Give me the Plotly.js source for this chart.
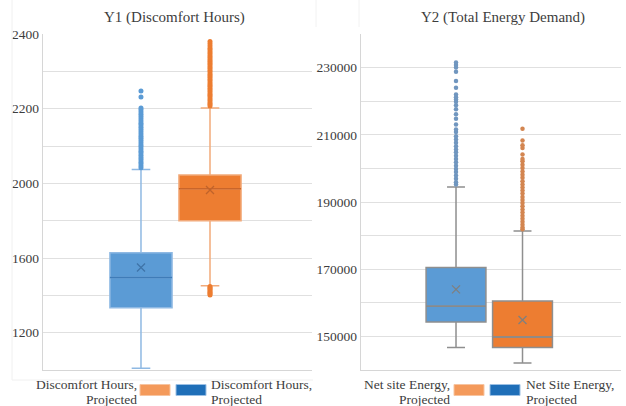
<!DOCTYPE html>
<html>
<head>
<meta charset="utf-8">
<script src="https://cdn.plot.ly/plotly-3.0.1.min.js"></script>
<style>html,body{margin:0;padding:0;background:#fff;}#chart{width:626px;height:406px;}</style>
</head>
<body>
<div id="chart"></div>
<script>
// ---- data (stat order: lowerfence, q1, median, q3, upperfence, mean) ----
const PANEL_TITLES = ["Y1 (Discomfort Hours)", "Y2 (Total Energy Demand)"];
const Y1_NAMES = ["Discomfort Hours, Projected", "Discomfort Hours, Projected"];
const Y2_NAMES = ["Net site Energy, Projected", "Net Site Energy, Projected"];

const Y1_BLUE = [1010, 1333, 1495, 1628, 2037, 1549];
const Y1_ORANGE = [1452, 1800, 1971, 2022, 2202, 1964];
const Y1_BLUE_OUTLIERS = [2042, 2047, 2053, 2058, 2064, 2069, 2075, 2081, 2086, 2092, 2098, 2103, 2109, 2115, 2121, 2126, 2132, 2138, 2144, 2150, 2156, 2161, 2167, 2173, 2179, 2185, 2191, 2197, 2202, 2231, 2247];
const Y1_ORANGE_OUTLIERS = [2207, 2212, 2216, 2221, 2226, 2231, 2236, 2240, 2245, 2250, 2255, 2260, 2264, 2269, 2274, 2279, 2284, 2289, 2293, 2298, 2303, 2308, 2313, 2318, 2322, 2327, 2332, 2337, 2342, 2347, 2352, 2357, 2362, 2368, 2374, 2380, 1447, 1441, 1435, 1428, 1421, 1414, 1408, 1402];
const Y1_TICK_LABELS = [1200, 1600, 2000, 2200, 2400];

const Y2_BLUE = [146700, 154300, 159000, 170500, 194500, 164000];
const Y2_ORANGE = [142100, 146700, 149800, 160500, 181400, 154900];
const Y2_BLUE_OUTLIERS = [195200, 195900, 196900, 197900, 198900, 199800, 200800, 201800, 202800, 203800, 204800, 205600, 206600, 207600, 208600, 209600, 210800, 211600, 213100, 214800, 216100, 217600, 218800, 219800, 220500, 221200, 222000, 224000, 226000, 228800, 230000, 230800, 231500];
const Y2_ORANGE_OUTLIERS = [181900, 182400, 183200, 184100, 185000, 185900, 186900, 187800, 188700, 189700, 190600, 191500, 192500, 193400, 194300, 195200, 196200, 197200, 198100, 199100, 200100, 201100, 202100, 202800, 204100, 206100, 206900, 208300, 211800];
const Y2_TICK_LABELS = [150000, 170000, 190000, 210000, 230000];

// The Y1 axis of the original is compressed below 2000 (label spacing 400 instead of 200)
const warp = v => v >= 2000 ? v : 2000 - (2000 - v) / 2;

const W = 626, H = 406;
const px = x => x / W;
const py = y => (H - y) / H;

const FONT = "Liberation Serif";
const TXT = "#3d3d3d";

function boxTrace(stats, pos, fill, lineColor, xa, ya, tf) {
  const f = tf || (v => v);
  return {
    type: 'box', orientation: 'v', x: [pos],
    lowerfence: [f(stats[0])], q1: [f(stats[1])], median: [f(stats[2])],
    q3: [f(stats[3])], upperfence: [f(stats[4])],
    width: 0.9, whiskerwidth: 0.3, fillcolor: fill,
    line: {color: lineColor, width: 1.5}, boxpoints: false,
    xaxis: xa, yaxis: ya, showlegend: false, hoverinfo: 'skip'
  };
}
function medianTrace(stats, pos, color, xa, ya, tf) {
  const f = tf || (v => v);
  const m = f(stats[2]);
  return {
    type: 'box', orientation: 'v', x: [pos],
    lowerfence: [m], q1: [m], median: [m], q3: [m], upperfence: [m],
    width: 0.9, whiskerwidth: 0, fillcolor: 'rgba(0,0,0,0)',
    line: {color: color, width: 1.5}, boxpoints: false,
    xaxis: xa, yaxis: ya, showlegend: false, hoverinfo: 'skip'
  };
}
function meanTrace(stats, pos, color, xa, ya, tf) {
  const f = tf || (v => v);
  return {
    type: 'scatter', mode: 'markers', x: [pos], y: [f(stats[5])],
    marker: {symbol: 'x-thin', size: 8, line: {color: color, width: 1.3}},
    xaxis: xa, yaxis: ya, showlegend: false, hoverinfo: 'skip'
  };
}
function outlierTrace(vals, pos, color, size, xa, ya, tf) {
  const f = tf || (v => v);
  return {
    type: 'scatter', mode: 'markers', x: vals.map(() => pos), y: vals.map(f),
    marker: {size: size, color: color}, xaxis: xa, yaxis: ya,
    showlegend: false, hoverinfo: 'skip', cliponaxis: false
  };
}

const traces = [
  boxTrace(Y1_BLUE, 0, '#5B9BD5', '#8fb9e3', 'x', 'y', warp),
  medianTrace(Y1_BLUE, 0, '#3f7cb8', 'x', 'y', warp),
  meanTrace(Y1_BLUE, 0, '#3f74a8', 'x', 'y', warp),
  outlierTrace(Y1_BLUE_OUTLIERS, 0, '#5B9BD5', 5, 'x', 'y', warp),
  boxTrace(Y1_ORANGE, 1, '#ED7D31', '#f2aa7a', 'x', 'y', warp),
  medianTrace(Y1_ORANGE, 1, '#c9652a', 'x', 'y', warp),
  meanTrace(Y1_ORANGE, 1, '#c0632a', 'x', 'y', warp),
  outlierTrace(Y1_ORANGE_OUTLIERS, 1, '#ED7D31', 5, 'x', 'y', warp),

  boxTrace(Y2_BLUE, 0, '#5B9BD5', '#8f8f8f', 'x2', 'y2'),
  medianTrace(Y2_BLUE, 0, '#8a8a8a', 'x2', 'y2'),
  meanTrace(Y2_BLUE, 0, '#7f7f7f', 'x2', 'y2'),
  outlierTrace(Y2_BLUE_OUTLIERS, 0, '#7096bf', 4.5, 'x2', 'y2'),
  boxTrace(Y2_ORANGE, 1, '#ED7D31', '#8f8f8f', 'x2', 'y2'),
  medianTrace(Y2_ORANGE, 1, '#8a8a8a', 'x2', 'y2'),
  meanTrace(Y2_ORANGE, 1, '#7f7f7f', 'x2', 'y2'),
  outlierTrace(Y2_ORANGE_OUTLIERS, 1, '#d38550', 4.5, 'x2', 'y2')
];

// Tick setup
const y1Grid = [], y1Text = [];
const y1LabelPos = Y1_TICK_LABELS.map(warp);
for (let g = 1500; g <= 2400; g += 100) {
  y1Grid.push(g);
  const i = y1LabelPos.indexOf(g);
  y1Text.push(i >= 0 ? String(Y1_TICK_LABELS[i]) : '');
}
const y2Grid = [], y2Text = [];
for (let g = 140000; g <= 240000; g += 10000) {
  y2Grid.push(g);
  y2Text.push(Y2_TICK_LABELS.indexOf(g) >= 0 ? String(g) : '');
}

const tickFont = {family: FONT, size: 13.5, color: TXT};
const GRID = '#e0e0e0';
const AXL = '#d6d6d6';

const xBase = {range: [-1.42, 2.478], showticklabels: false, showgrid: false, zeroline: false,
  showline: true, linecolor: AXL, linewidth: 1.3, ticks: '', fixedrange: true, automargin: false};
const yDomain = [py(370), py(34)];

const layout = {
  width: W, height: H, margin: {l: 0, r: 0, t: 0, b: 0},
  paper_bgcolor: '#ffffff', plot_bgcolor: '#ffffff',
  boxmode: 'overlay', showlegend: false,
  font: {family: FONT, color: TXT},
  xaxis: Object.assign({}, xBase, {domain: [px(43), px(312)], anchor: 'y'}),
  xaxis2: Object.assign({}, xBase, {domain: [px(361), px(621)], anchor: 'y2', range: [-1.4286, 2.481]}),
  yaxis: {domain: yDomain, anchor: 'x', range: [1500, 2400], tickmode: 'array', tickvals: y1Grid, ticktext: y1Text,
    showgrid: true, gridcolor: GRID, gridwidth: 1, zeroline: false, showline: true, linecolor: AXL, linewidth: 1.3,
    tickfont: tickFont, ticks: '', automargin: false},
  yaxis2: {domain: yDomain, anchor: 'x2', range: [140000, 240000], tickmode: 'array', tickvals: y2Grid, ticktext: y2Text,
    showgrid: true, gridcolor: GRID, gridwidth: 1, zeroline: false, showline: true, linecolor: AXL, linewidth: 1.3,
    tickfont: tickFont, ticks: '', automargin: false},
  annotations: [
    {text: PANEL_TITLES[0], x: px(174), y: py(18), xref: 'paper', yref: 'paper', showarrow: false,
      xanchor: 'center', yanchor: 'middle', font: {family: FONT, size: 15, color: TXT}},
    {text: PANEL_TITLES[1], x: px(503), y: py(18), xref: 'paper', yref: 'paper', showarrow: false,
      xanchor: 'center', yanchor: 'middle', font: {family: FONT, size: 15, color: TXT}}
  ],
  shapes: [
    {type: 'line', xref: 'paper', yref: 'paper', x0: px(12), x1: px(12), y0: py(0), y1: py(380), line: {color: '#f0f0f0', width: 1}},
    {type: 'line', xref: 'paper', yref: 'paper', x0: px(12), x1: px(313), y0: py(380), y1: py(380), line: {color: '#f0f0f0', width: 1}},
    {type: 'line', xref: 'paper', yref: 'paper', x0: px(316), x1: px(316), y0: py(0), y1: py(27), line: {color: '#f2f2f2', width: 1}},
    {type: 'line', xref: 'paper', yref: 'paper', x0: px(359), x1: px(359), y0: py(0), y1: py(27), line: {color: '#f2f2f2', width: 1}}
  ]
};

function addLegend(names, textRight, sw1x, sw2x, textLeft) {
  const [n1, n2] = names.map(n => n.split(', '));
  const f = {family: FONT, size: 13.5, color: TXT};
  layout.annotations.push(
    {text: n1[0] + ',', x: px(textRight), y: py(384), xref: 'paper', yref: 'paper', showarrow: false, xanchor: 'right', yanchor: 'middle', font: f},
    {text: n1[1], x: px(textRight), y: py(399.5), xref: 'paper', yref: 'paper', showarrow: false, xanchor: 'right', yanchor: 'middle', font: f},
    {text: n2[0] + ',', x: px(textLeft), y: py(384), xref: 'paper', yref: 'paper', showarrow: false, xanchor: 'left', yanchor: 'middle', font: f},
    {text: n2[1], x: px(textLeft), y: py(399.5), xref: 'paper', yref: 'paper', showarrow: false, xanchor: 'left', yanchor: 'middle', font: f}
  );
  layout.shapes.push(
    {type: 'rect', xref: 'paper', yref: 'paper', x0: px(sw1x), x1: px(sw1x + 30), y0: py(395.5), y1: py(384.5), fillcolor: '#F49A5B', line: {color: '#f7c4a0', width: 1}},
    {type: 'rect', xref: 'paper', yref: 'paper', x0: px(sw2x), x1: px(sw2x + 30), y0: py(395.5), y1: py(384.5), fillcolor: '#1F6FB8', line: {color: '#9cc0e4', width: 1}}
  );
}
addLegend(Y1_NAMES, 139, 140, 176, 209);
addLegend(Y2_NAMES, 452, 454, 490, 524);

const draw = () => Plotly.newPlot('chart', traces, layout, {staticPlot: true, displayModeBar: false});
if (document.fonts && document.fonts.load) {
  document.fonts.load('15px "Liberation Serif"').then(draw, draw);
} else {
  draw();
}
</script>
</body>
</html>
